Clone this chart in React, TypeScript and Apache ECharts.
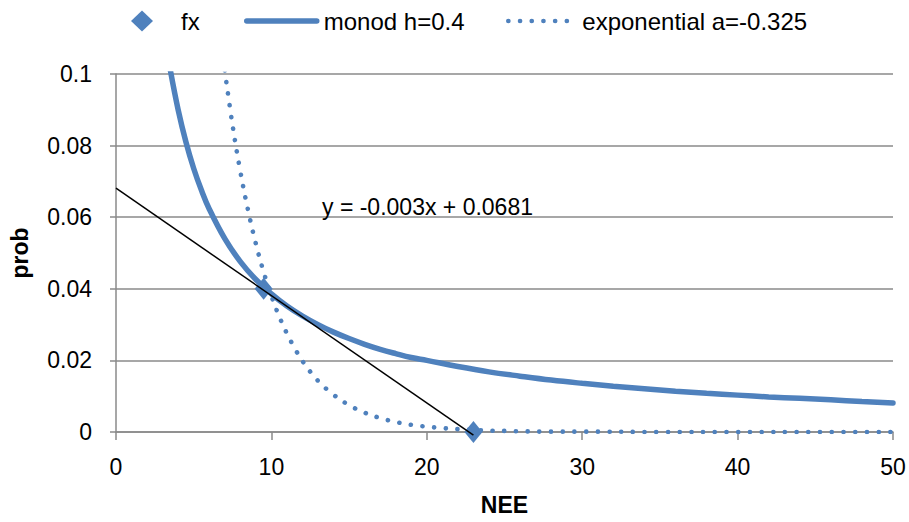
import React, { useEffect, useRef } from "react";
import * as echarts from "echarts";

const fxX = [9.5, 23];
const fxY = [0.04, 0];

const monodX = [3.5, 4, 4.5, 5, 5.5, 6, 7, 8, 9, 10, 11, 12, 13, 14, 15, 16, 17, 18, 19, 20, 22, 24, 26, 28, 30, 32, 34, 36, 38, 40, 42, 44, 46, 48, 50];
const monodY = [0.101, 0.09, 0.081, 0.0736, 0.0675, 0.0623, 0.054, 0.0476, 0.0426, 0.0386, 0.0352, 0.0324, 0.03, 0.0279, 0.0261, 0.0245, 0.0231, 0.0219, 0.0208, 0.02, 0.0183, 0.0168, 0.0156, 0.0145, 0.0136, 0.0128, 0.0121, 0.0114, 0.0108, 0.0103, 0.0098, 0.0094, 0.009, 0.0085, 0.0081];

const expX = [7, 7.5, 8, 8.5, 9, 9.5, 10, 10.5, 11, 11.5, 12, 13, 14, 15, 16, 17, 18, 19, 20, 21, 22, 23, 24, 25, 26, 28, 30, 35, 40, 45, 50];
const expY = [0.101, 0.0857, 0.0728, 0.0619, 0.0526, 0.0447, 0.038, 0.0323, 0.0275, 0.0234, 0.0198, 0.0143, 0.0104, 0.0075, 0.0054, 0.0039, 0.0028, 0.002, 0.0015, 0.0011, 0.0008, 0.0006, 0.0004, 0.0003, 0.0002, 0.0001, 0.0001, 0, 0, 0, 0];

const trendX = [0, 23];
const trendY = [0.0681, -0.0009];

const trendLabel = "y = -0.003x + 0.0681";
const seriesNames = ["fx", "monod h=0.4", "exponential a=-0.325"];

const FONT = "Liberation Sans";
const BLUE = "#4F81BD";
const GRAY = "#8a8a8a";

const zip = (xs: number[], ys: number[]) => xs.map((x, i) => [x, ys[i]]);

export default function App() {
  const ref = useRef<HTMLDivElement>(null);
  useEffect(() => {
    if (!ref.current) return;
    const chart = echarts.init(ref.current, null, { renderer: "svg" });
    const legendText = { fontFamily: FONT, fontSize: 24, color: "#000" };
    chart.setOption({
      animation: false,
      backgroundColor: "#fff",
      grid: { left: 116, right: 16, top: 74, bottom: 90 },
      legend: [
        {
          data: [{ name: seriesNames[0], icon: "diamond" }],
          left: 131, top: 9, padding: 0,
          itemWidth: 22, itemHeight: 21,
          itemStyle: { opacity: 1 },
          textStyle: { ...legendText, padding: [0, 0, 0, 23] },
        },
        {
          data: [seriesNames[1]],
          left: 244, top: 9, padding: 0,
          itemWidth: 70, itemHeight: 20,
          itemStyle: { opacity: 0 },
          lineStyle: { width: "inherit", opacity: 1 },
          textStyle: { ...legendText, padding: [0, 0, 0, 2] },
        },
        {
          data: [seriesNames[2]],
          left: 506, top: 9, padding: 0,
          itemWidth: 62, itemHeight: 20,
          itemStyle: { opacity: 0 },
          lineStyle: { width: "inherit", opacity: 1 },
          textStyle: { ...legendText, padding: [0, 0, 0, 7] },
        },
      ],
      xAxis: {
        type: "value",
        min: 0, max: 50, interval: 10,
        name: "NEE",
        nameLocation: "middle",
        nameGap: 61,
        nameTextStyle: { fontFamily: FONT, fontSize: 23, fontWeight: "bold", color: "#000" },
        axisLine: { show: true, lineStyle: { color: GRAY, width: 1.5 } },
        axisTick: { show: true, length: 8, lineStyle: { color: GRAY, width: 1.5 } },
        axisLabel: { fontFamily: FONT, fontSize: 23, color: "#000", margin: 23 },
        splitLine: { show: false },
      },
      yAxis: {
        type: "value",
        min: 0, max: 0.1, interval: 0.02,
        name: "prob",
        nameLocation: "middle",
        nameGap: 85,
        nameTextStyle: { fontFamily: FONT, fontSize: 23, fontWeight: "bold", color: "#000" },
        axisLine: { show: true, lineStyle: { color: GRAY, width: 1.5 } },
        axisTick: { show: true, length: 6, lineStyle: { color: GRAY, width: 1.5 } },
        axisLabel: {
          fontFamily: FONT, fontSize: 23, color: "#000", margin: 24,
          formatter: (v: number) => String(Number(v.toFixed(2))),
        },
        splitLine: { show: true, lineStyle: { color: GRAY, width: 1.5 } },
      },
      graphic: [
        {
          type: "text",
          left: 322,
          top: 195,
          style: { text: trendLabel, fontFamily: FONT, fontSize: 23, fill: "#000" },
          z: 10,
        },
      ],
      series: [
        {
          name: seriesNames[0],
          type: "scatter",
          data: zip(fxX, fxY),
          symbol: "diamond",
          symbolSize: [18, 22],
          itemStyle: { color: BLUE, opacity: 1 },
          z: 2,
        },
        {
          name: seriesNames[1],
          type: "line",
          data: zip(monodX, monodY),
          smooth: 0.4,
          symbol: "none",
          clip: true,
          lineStyle: { color: BLUE, width: 5.5, cap: "round" },
          itemStyle: { color: BLUE },
          z: 3,
        },
        {
          name: seriesNames[2],
          type: "line",
          data: zip(expX, expY),
          smooth: 0.4,
          symbol: "none",
          clip: true,
          lineStyle: { color: BLUE, width: 4.6, type: [0.1, 11.6], cap: "round" },
          itemStyle: { color: BLUE },
          z: 4,
        },
        {
          name: "trend",
          type: "line",
          data: zip(trendX, trendY),
          symbol: "none",
          clip: false,
          lineStyle: { color: "#000", width: 1.5 },
          z: 5,
        },
      ],
    });
    return () => chart.dispose();
  }, []);
  return (
    <div
      ref={ref}
      style={{ position: "fixed", left: 0, top: 0, width: 909, height: 522, background: "#fff" }}
    />
  );
}
